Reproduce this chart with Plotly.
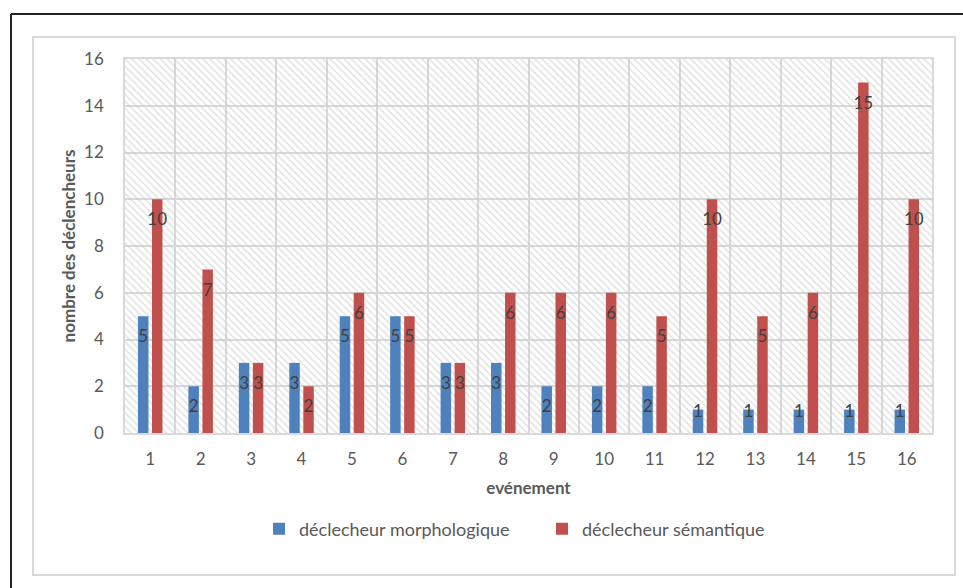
import plotly.graph_objects as go

# Number of triggers per event
events = list(range(1, 17))
tick_labels = [str(e) for e in events]
morphologique = [5, 2, 3, 3, 5, 5, 3, 3, 2, 2, 2, 1, 1, 1, 1, 1]
semantique = [10, 7, 3, 2, 6, 5, 3, 6, 6, 6, 5, 10, 5, 6, 15, 10]

series_names = ["déclecheur morphologique", "déclecheur sémantique"]
colors = ["#4F81BD", "#C0504D"]

FONT = "Lato, 'Open Sans', sans-serif"
BAR_W = 0.208
SHIFT = 0.139

W, H = 963, 588
L, R, T, B = 125, 932, 59, 433  # plot area in pixels


def px_x(px):
    return (px - L) / (R - L)


def px_y(py):
    return (B - py) / (B - T)


fig = go.Figure()

# hatched plot-area background
fig.add_trace(go.Bar(
    x=[8.5], y=[16], width=[16], base=0,
    marker=dict(color="rgba(0,0,0,0)", line=dict(width=0),
                pattern=dict(shape="\\", fgcolor="#c6c6c6", bgcolor="rgba(0,0,0,0)",
                             size=5, solidity=0.3, fillmode="overlay")),
    showlegend=False, hoverinfo="skip",
))

for name, vals, col, sgn in zip(series_names, [morphologique, semantique], colors, [-1, 1]):
    fig.add_trace(go.Bar(
        x=events, y=vals, name=name,
        width=BAR_W, offset=sgn * SHIFT - BAR_W / 2,
        marker=dict(color=col, line=dict(width=0)),
        hoverinfo="skip",
    ))

# value labels near the top inside each bar
for vals, sgn in zip([morphologique, semantique], [-1, 1]):
    fig.add_trace(go.Scatter(
        x=[e + sgn * SHIFT for e in events],
        y=[max(v - 0.94, 0.85) for v in vals],
        text=[str(v) for v in vals],
        mode="text", textposition="middle center",
        textfont=dict(family=FONT, size=17, color="#404040"),
        showlegend=False, hoverinfo="skip",
    ))

shapes = [
    # chart-area frame
    dict(type="rect", xref="paper", yref="paper",
         x0=px_x(33), x1=px_x(955), y0=px_y(575), y1=px_y(37),
         line=dict(color="#d9d9d9", width=2), layer="below"),
    # outer frame edges
    dict(type="line", xref="paper", yref="paper",
         x0=px_x(11), x1=px_x(11), y0=px_y(14), y1=px_y(600),
         line=dict(color="#222222", width=2)),
    dict(type="line", xref="paper", yref="paper",
         x0=px_x(11), x1=px_x(970), y0=px_y(14), y1=px_y(14),
         line=dict(color="#222222", width=2)),
]

fig.update_layout(
    width=W, height=H,
    margin=dict(l=L, r=W - R, t=T, b=H - B),
    paper_bgcolor="white", plot_bgcolor="white",
    barmode="overlay",
    font=dict(family=FONT, color="#595959"),
    shapes=shapes,
    showlegend=True,
    legend=dict(
        orientation="h", x=px_x(542), xanchor="center", y=px_y(529), yanchor="middle",
        font=dict(family=FONT, size=18, color="#595959"),
        entrywidth=238, itemsizing="constant", traceorder="normal",
    ),
    xaxis=dict(
        range=[0.5, 16.5], tickmode="array", tickvals=events, ticktext=tick_labels,
        showgrid=False, zeroline=False,
        showline=True, linecolor="#d9d9d9", linewidth=1.5, mirror=True,
        ticks="", ticklabelstandoff=10,
        tickfont=dict(family=FONT, size=17, color="#595959"),
        minor=dict(tick0=0.5, dtick=1, showgrid=True, gridcolor="#d9d9d9", gridwidth=1.5),
        title=dict(text="<b>evénement</b>", standoff=14,
                   font=dict(family=FONT, size=17, color="#595959")),
    ),
    yaxis=dict(
        range=[0, 16], dtick=2, showgrid=True, gridcolor="#d9d9d9", gridwidth=1.5,
        zeroline=False, showline=True, linecolor="#d9d9d9", linewidth=1.5, mirror=True,
        ticks="", ticklabelstandoff=16,
        tickfont=dict(family=FONT, size=17, color="#595959"),
        title=dict(text="<b>nombre des déclencheurs</b>", standoff=4,
                   font=dict(family=FONT, size=17, color="#595959")),
    ),
)

fig.write_html("out.html")
